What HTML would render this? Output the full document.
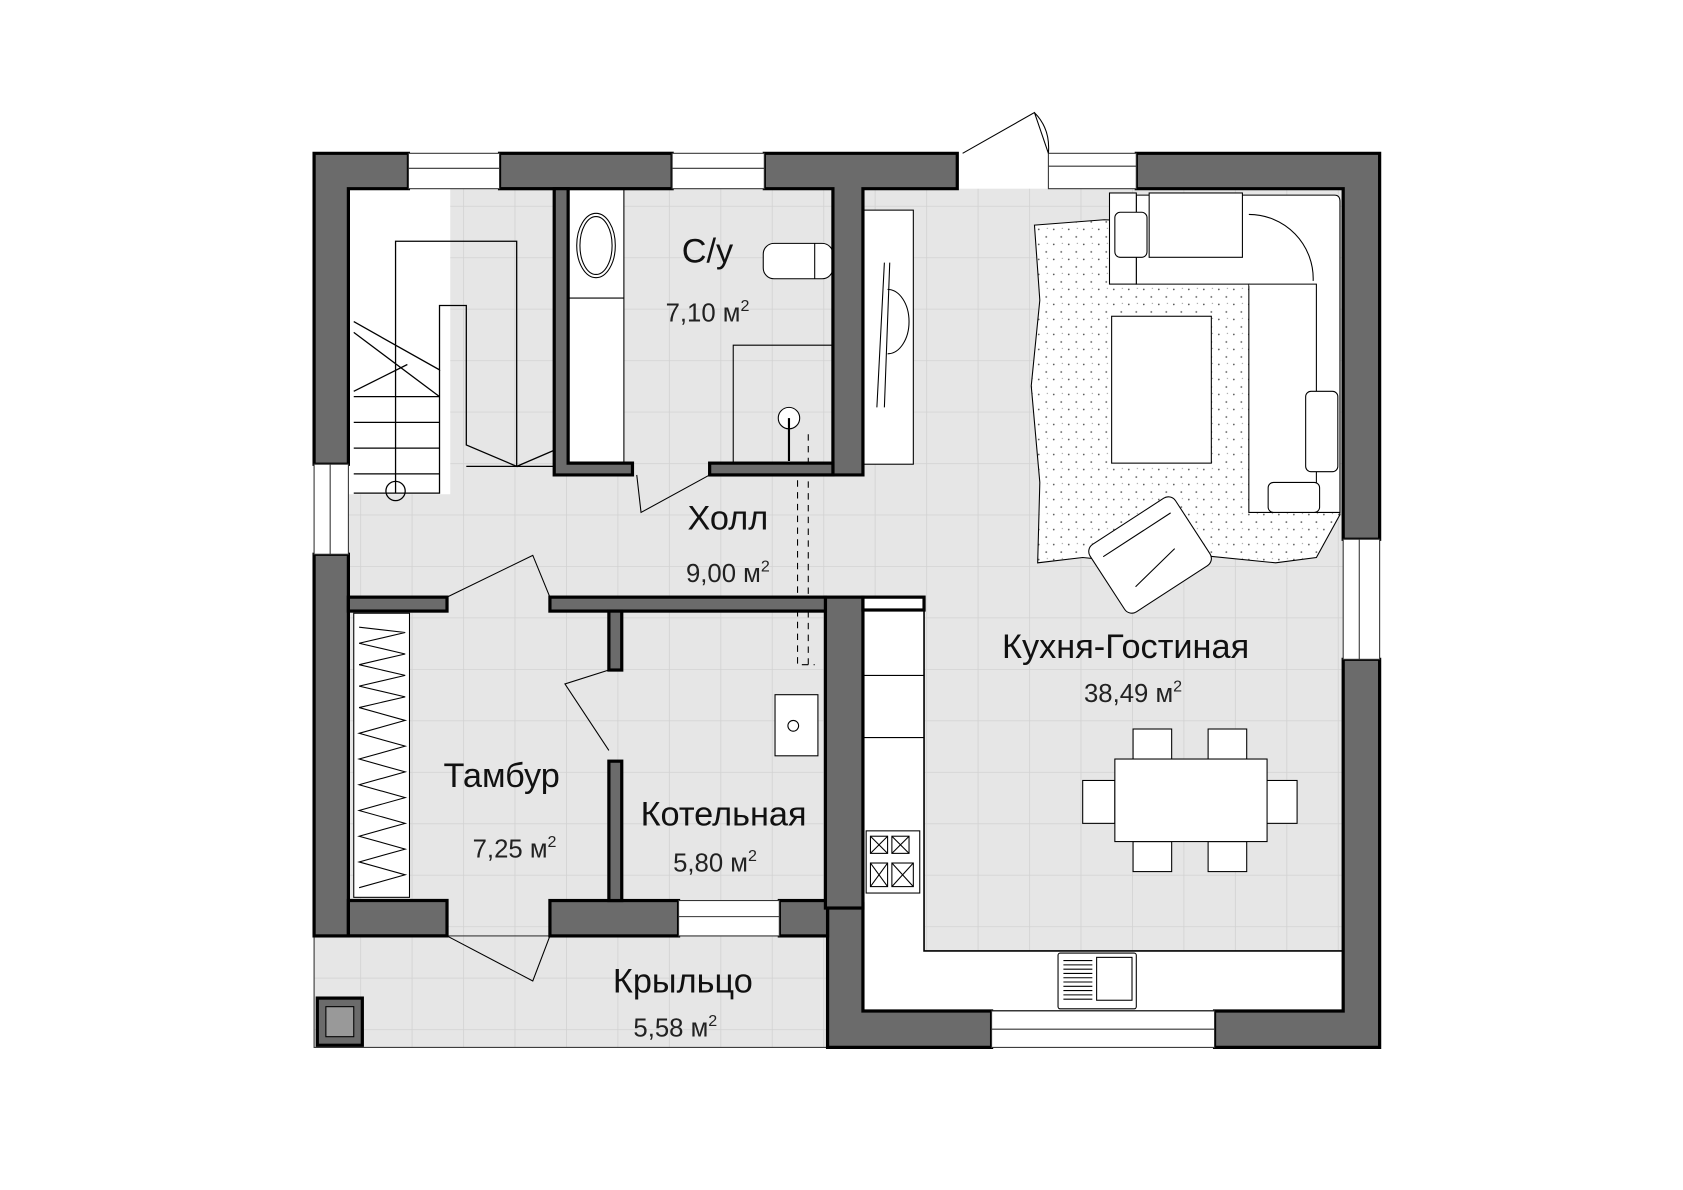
<!DOCTYPE html>
<html><head><meta charset="utf-8"><style>
html,body{margin:0;padding:0;background:#fff;width:1683px;height:1190px;overflow:hidden}
svg{display:block}
.t{font-family:"Liberation Sans",sans-serif;fill:#111}
.a{font-family:"Liberation Sans Narrow","Liberation Sans",sans-serif;fill:#222}
</style></head><body>
<svg width="1683" height="1190" viewBox="0 0 1570 1110" preserveAspectRatio="none" xmlns="http://www.w3.org/2000/svg">
<defs>
<pattern id="g" x="0" y="0" width="48" height="48" patternUnits="userSpaceOnUse">
<rect width="48" height="48" fill="#e6e6e6"/><path d="M0 0H48M0 0V48" stroke="#d2d2d2" stroke-width="1.5"/>
</pattern>
<pattern id="d" width="14" height="14" patternUnits="userSpaceOnUse">
<rect width="14" height="14" fill="#fff"/><circle cx="3" cy="4" r=".8" fill="#555"/><circle cx="10" cy="11" r=".8" fill="#555"/><circle cx="11" cy="3" r=".5" fill="#777"/>
</pattern>
</defs>
<rect x="325" y="176" width="928" height="767" fill="url(#g)"/>
<rect x="325" y="176" width="95" height="285" fill="#fff"/>
<rect x="293" y="873" width="479" height="104" fill="url(#g)" stroke="#333" stroke-width="1"/>
<rect x="296" y="931" width="42" height="44" fill="#6b6b6b" stroke="#000" stroke-width="3"/>
<rect x="304" y="939" width="26" height="28" fill="#999" stroke="#000" stroke-width="1"/>
<g stroke="#000" stroke-width="1.2" fill="none">
<path d="M369 460V225H482V435L435 415V285H410V345L330 300M330 310L410 370M330 365L380 340"/>
<path d="M330 370H410M330 394H410M330 418H410M330 442H410M330 460H410V345"/>
<path d="M435 435H517M482 435L517 420"/>
<circle cx="369" cy="458" r="9"/>
</g>
<rect x="530" y="176" width="52" height="257" fill="#fff" stroke="#000"/>
<line x1="530" y1="278" x2="582" y2="278" stroke="#000"/>
<ellipse cx="556" cy="229" rx="18" ry="30" fill="#fff" stroke="#000"/>
<ellipse cx="556" cy="229" rx="15" ry="27" fill="none" stroke="#000"/>
<rect x="712" y="227" width="65" height="33" rx="10" fill="#fff" stroke="#000"/>
<line x1="760" y1="227" x2="760" y2="260" stroke="#000"/>
<path d="M684 432V322H777" fill="none" stroke="#000"/>
<circle cx="736" cy="390" r="10" fill="#fff" stroke="#000"/><line x1="736" y1="390" x2="736" y2="430" stroke="#000" stroke-width="2"/>
<path d="M744 448V620H760M754 405V620" stroke="#000" stroke-dasharray="6 5" fill="none"/>
<rect x="805" y="196" width="47" height="237" fill="#fff" stroke="#000"/>
<path d="M825 245L818 380M830 245L825 380" stroke="#000"/>
<path d="M828 270A20 30 0 0 1 828 330" fill="none" stroke="#000"/>
<rect x="330" y="572" width="52" height="265" fill="#fff" stroke="#000"/>
<g stroke="#000" stroke-width="1" fill="none"><path d="M335 585L378 590L335 600L378 610L335 620L378 630L335 640L378 650L335 660L378 672L335 684L378 696L335 708L378 720L335 732L378 744L335 756L378 768L335 780L378 792L335 804L378 816L335 828"/></g>
<rect x="723" y="648" width="40" height="57" fill="#fff" stroke="#000"/><circle cx="740" cy="677" r="5" fill="none" stroke="#000"/>
<g fill="#fff" stroke="#000"><rect x="783" y="615" width="14" height="13"/><rect x="783" y="638" width="14" height="13"/><rect x="783" y="665" width="14" height="20"/><rect x="783" y="702" width="14" height="13"/><rect x="783" y="725" width="14" height="13"/></g>
<path d="M805 557H862V887H1253V943H805Z" fill="#fff" stroke="#000" stroke-width="1.5"/>
<path d="M805 630H862M805 688H862" stroke="#000"/>
<rect x="808" y="775" width="50" height="58" fill="#fff" stroke="#000"/>
<g fill="none" stroke="#000"><rect x="812" y="780" width="16" height="16"/><rect x="832" y="780" width="16" height="16"/><rect x="812" y="805" width="16" height="22"/><rect x="832" y="805" width="20" height="22"/><path d="M812 780L828 796M828 780L812 796M832 780L848 796M848 780L832 796M812 805L828 827M828 805L812 827M832 805L852 827M852 805L832 827"/></g>
<rect x="987" y="889" width="73" height="52" rx="2" fill="#fff" stroke="#000"/>
<rect x="1023" y="893" width="33" height="40" fill="none" stroke="#000"/>
<g stroke="#000"><path d="M992 896H1019M992 900H1019M992 904H1019M992 908H1019M992 912H1019M992 916H1019M992 920H1019M992 924H1019M992 928H1019M992 932H1019"/></g>
<path d="M965 210L1030 205L1160 210L1240 200L1250 260L1235 350L1250 480L1228 520L1190 525L1120 518L1060 525L1010 520L968 525L970 450L962 360L970 280Z" fill="url(#d)" stroke="#000"/>
<g fill="#fff" stroke="#000">
<path d="M1060 182H1245Q1250 182 1250 188V478H1165V265H1060Z"/>
<rect x="1035" y="180" width="25" height="85"/><rect x="1040" y="198" width="30" height="42" rx="5"/>
<rect x="1072" y="180" width="87" height="60"/>
<path d="M1165 265H1228V478"/>
<path d="M1165 200A60 60 0 0 1 1225 262"/>
<rect x="1218" y="365" width="30" height="75" rx="5"/>
<rect x="1183" y="450" width="48" height="28" rx="5"/>
<rect x="1037" y="295" width="93" height="137"/>
<g transform="rotate(-33 1073 517)"><rect x="1025" y="480" width="95" height="75" rx="8"/><path d="M1035 495H1110M1045 535L1095 525"/></g>
</g>
<g fill="#fff" stroke="#000">
<rect x="1057" y="680" width="36" height="28"/><rect x="1127" y="680" width="36" height="28"/>
<rect x="1057" y="785" width="36" height="28"/><rect x="1127" y="785" width="36" height="28"/>
<rect x="1010" y="728" width="30" height="40"/><rect x="1180" y="728" width="30" height="40"/>
<rect x="1040" y="708" width="142" height="77"/>
</g>
<g fill="#6b6b6b" stroke="#000" stroke-width="3">
<path d="M293 143H381V176H325V433H293Z"/>
<rect x="293" y="517" width="32" height="356"/>
<path d="M325 840H417V873H325Z"/>
<rect x="466" y="143" width="161" height="33"/>
<path d="M713 143H893V176H805V443H777V176H713Z"/>
<path d="M1060 143H1287V503H1253V176H1060Z"/>
<path d="M1253 615H1287V977H1133V943H1253Z"/>
<path d="M772 843H805V943H925V977H772Z"/>
<rect x="513" y="840" width="120" height="33"/><rect x="727" y="840" width="45" height="33"/>
<rect x="770" y="557" width="35" height="290"/>
<path d="M517 176H530V432H590V443H517Z"/>
<rect x="662" y="432" width="115" height="11"/>
<rect x="325" y="557" width="92" height="13"/>
<rect x="513" y="557" width="257" height="13"/>
<rect x="568" y="570" width="12" height="55"/><rect x="568" y="710" width="12" height="130"/>
</g>
<rect x="805" y="557" width="57" height="12" fill="#fff" stroke="#000" stroke-width="3"/>
<g fill="#fff" stroke="#333" stroke-width="1">
<rect x="381" y="143" width="85" height="33"/><line x1="381" y1="157" x2="466" y2="157"/>
<rect x="627" y="143" width="86" height="33"/><line x1="627" y1="157" x2="713" y2="157"/>
<rect x="978" y="143" width="82" height="33"/><line x1="978" y1="155" x2="1060" y2="155"/>
<rect x="293" y="433" width="32" height="84"/><line x1="308" y1="433" x2="308" y2="517"/>
<rect x="1253" y="503" width="34" height="112"/><line x1="1268" y1="503" x2="1268" y2="615"/>
<rect x="925" y="943" width="208" height="34"/><line x1="925" y1="960" x2="1133" y2="960"/>
<rect x="633" y="840" width="94" height="33"/><line x1="633" y1="855" x2="727" y2="855"/>
</g>
<g fill="none" stroke="#000" stroke-width="1">
<path d="M898 143L965 105L978 143M965 105Q980 120 978 143"/>
<path d="M594 443L598 478L662 443"/>
<path d="M417 557L497 518L513 557"/>
<path d="M568 625L527 638L568 700"/>
<path d="M417 873L497 915L513 873"/>
</g>
<text class="t" x="660" y="245" font-size="32" text-anchor="middle">С/у</text>
<text class="a" x="660" y="300" font-size="24" text-anchor="middle">7,10 м<tspan dy="-10" font-size="15">2</tspan></text>
<text class="t" x="679" y="494" font-size="32" text-anchor="middle">Холл</text>
<text class="a" x="679" y="543" font-size="24" text-anchor="middle">9,00 м<tspan dy="-10" font-size="15">2</tspan></text>
<text class="t" x="1050" y="614" font-size="32" text-anchor="middle">Кухня-Гостиная</text>
<text class="a" x="1057" y="655" font-size="24" text-anchor="middle">38,49 м<tspan dy="-10" font-size="15">2</tspan></text>
<text class="t" x="468" y="734" font-size="32" text-anchor="middle">Тамбур</text>
<text class="a" x="480" y="800" font-size="24" text-anchor="middle">7,25 м<tspan dy="-10" font-size="15">2</tspan></text>
<text class="t" x="675" y="770" font-size="32" text-anchor="middle">Котельная</text>
<text class="a" x="667" y="813" font-size="24" text-anchor="middle">5,80 м<tspan dy="-10" font-size="15">2</tspan></text>
<text class="t" x="637" y="926" font-size="32" text-anchor="middle">Крыльцо</text>
<text class="a" x="630" y="967" font-size="24" text-anchor="middle">5,58 м<tspan dy="-10" font-size="15">2</tspan></text>
</svg>
</body></html>
